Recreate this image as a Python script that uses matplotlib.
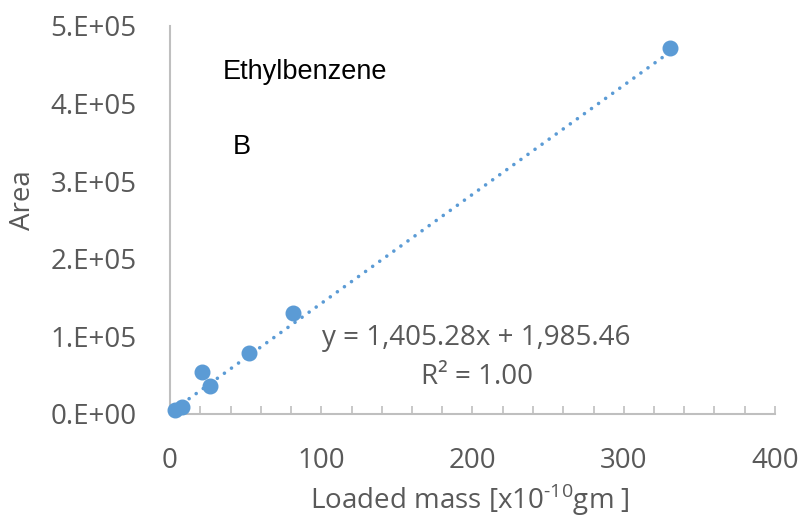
import matplotlib
matplotlib.use("Agg")
import matplotlib.pyplot as plt
from matplotlib.ticker import MultipleLocator, FuncFormatter
import numpy as np

# data
mass = [3.3, 8.2, 21.0, 26.4, 52.4, 81.1, 330.6]
area = [5200, 9400, 53700, 36500, 78200, 129800, 472000]
slope = 1405.28
intercept = 1985.46
x_ticks = [0, 100, 200, 300, 400]
y_ticks = [0, 1e5, 2e5, 3e5, 4e5, 5e5]

blue = "#5B9BD5"
grey = "#595959"
axis_grey = "#BFBFBF"

plt.rcParams['font.family'] = ['Open Sans', 'DejaVu Sans']
plt.rcParams['mathtext.fontset'] = 'custom'
plt.rcParams['mathtext.rm'] = 'Open Sans'

fig = plt.figure(figsize=(8.01, 5.18), dpi=100)
ax = fig.add_axes([170 / 801, 1 - 414 / 518, 605 / 801, 388 / 518])

ax.plot(mass, area, 'o', color=blue, ms=10.5, zorder=3, clip_on=False)

# linear trendline, dotted
xs = np.array([min(mass), max(mass)])
ax.plot(xs, slope * xs + intercept, color=blue, lw=2.6,
        linestyle=(0, (0.01, 2.4)), dash_capstyle='round', zorder=2)

ax.set_xlim(0, 400)
ax.set_ylim(0, 5e5)
ax.set_xticks(x_ticks)
ax.set_yticks(y_ticks)
ax.xaxis.set_minor_locator(MultipleLocator(20))
ax.yaxis.set_major_formatter(FuncFormatter(lambda v, p: ("%.0E" % v).replace("E", ".E")))

for s in ['top', 'right']:
    ax.spines[s].set_visible(False)
for s in ['left', 'bottom']:
    ax.spines[s].set_color(axis_grey)
    ax.spines[s].set_linewidth(1.5)

ax.tick_params(axis='x', which='both', direction='in', length=6, width=1.2,
               color=axis_grey, labelsize=20, labelcolor=grey, pad=24)
ax.tick_params(axis='y', which='both', length=0, labelsize=20,
               labelcolor=grey, pad=24)

fig.text(470 / 801, 1 - 500 / 518, r"Loaded mass [x10$^{\text{-10}}$gm ]",
         fontsize=20, color=grey, ha='center', va='center')
fig.text(23 / 801, 1 - 200 / 518, "Area", rotation=90, fontsize=20,
         color=grey, ha='center', va='center')

fig.text(223 / 801, 1 - 72 / 518, "Ethylbenzene", fontsize=19.5,
         family='Liberation Sans', color='black', va='center')
fig.text(233 / 801, 1 - 147 / 518, "B", fontsize=19.5,
         family='Liberation Sans', color='black', va='center')

fig.text(476 / 801, 1 - 338 / 518, "y = 1,405.28x + 1,985.46", fontsize=20,
         color=grey, ha='center', va='center')
fig.text(477 / 801, 1 - 377 / 518, "R² = 1.00", fontsize=20,
         color=grey, ha='center', va='center')

fig.savefig("out.png", dpi=100)
